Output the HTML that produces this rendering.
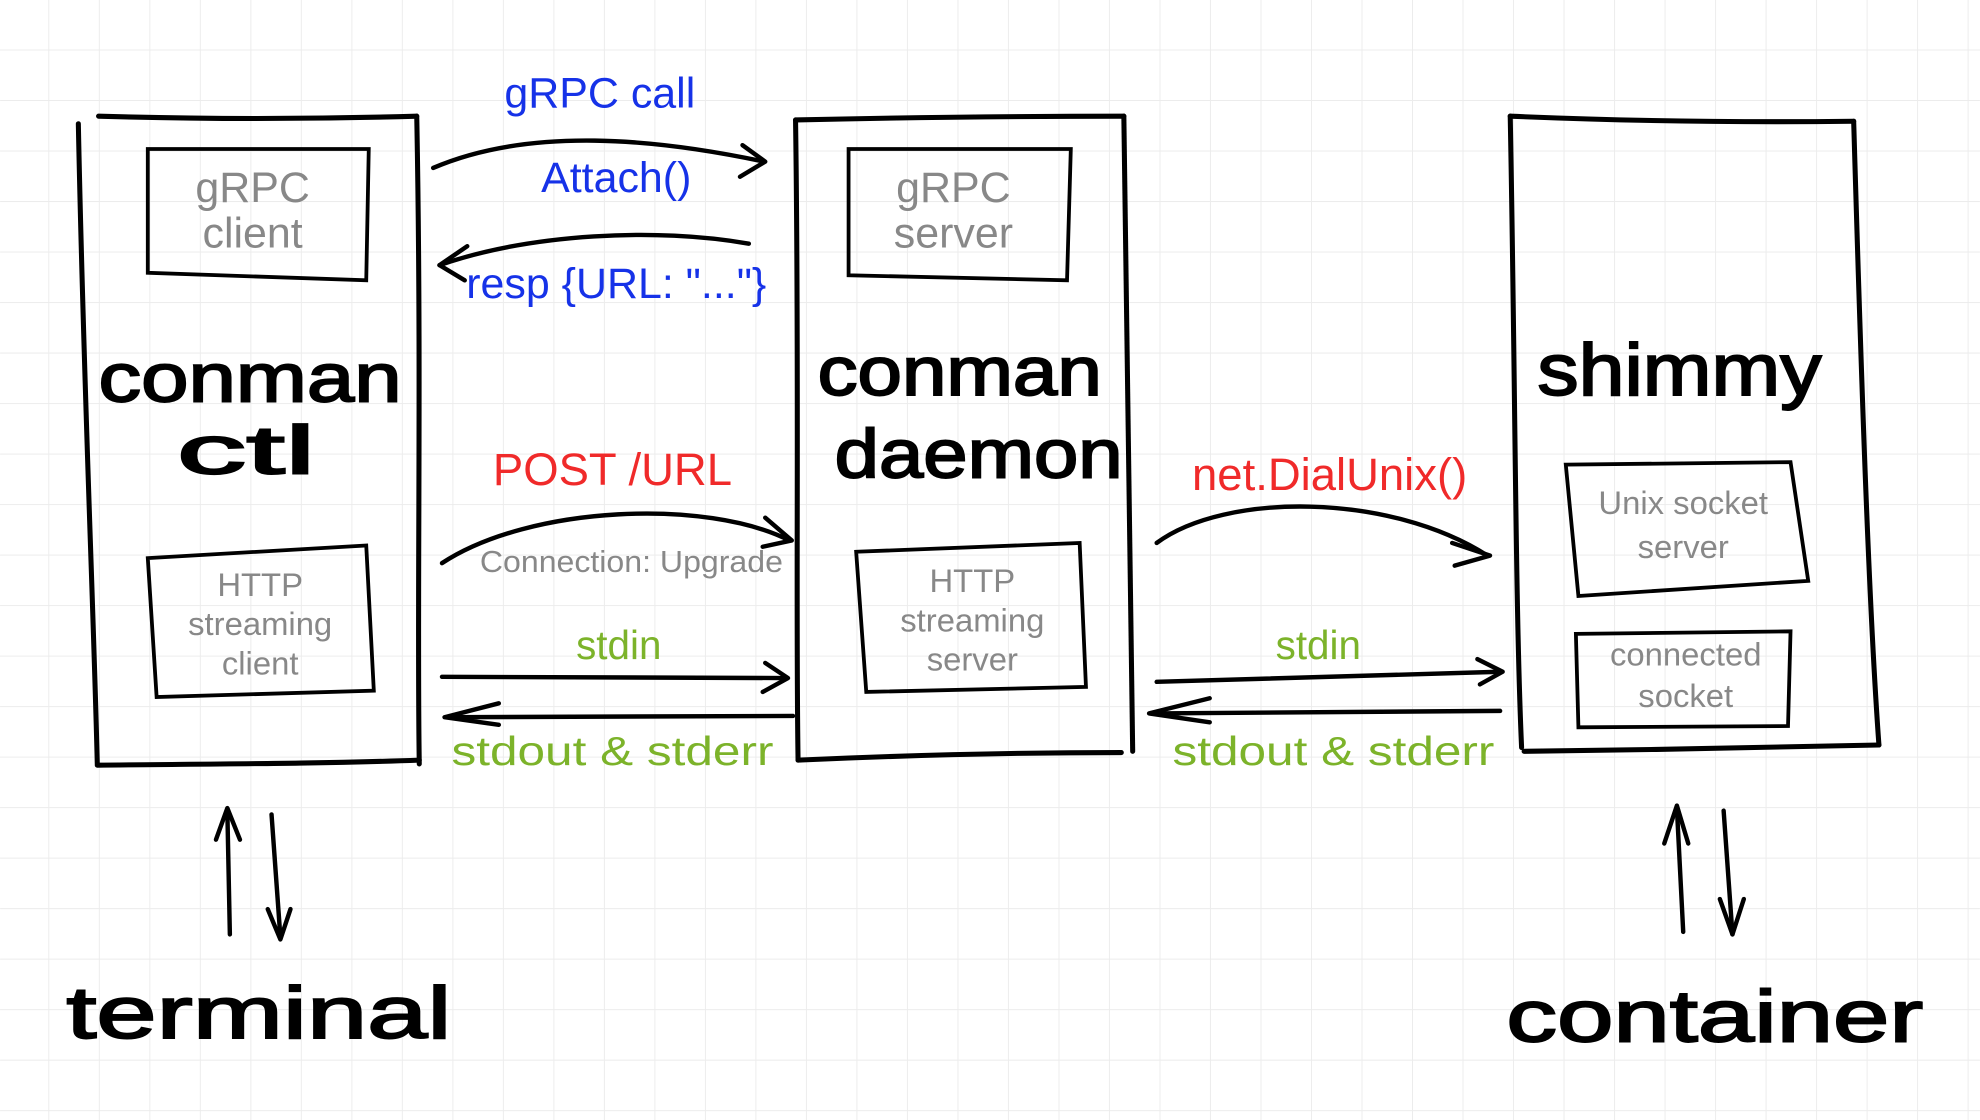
<!DOCTYPE html>
<html><head><meta charset="utf-8"><style>
html,body{margin:0;padding:0;background:#fff}
svg{display:block}
text{font-family:"Liberation Sans",sans-serif}
</style></head><body>
<svg width="1980" height="1120" viewBox="0 0 1568 887" xmlns="http://www.w3.org/2000/svg">
<defs>
<pattern id="g" width="40" height="40" patternUnits="userSpaceOnUse" x="-1" y="0">
<path d="M40 0V40M0 40H40" stroke="#ececec" stroke-width="1.5" fill="none"/>
</pattern>
</defs>
<rect width="1568" height="887" fill="#fff"/>
<rect width="1568" height="887" fill="url(#g)"/>
<g fill="none" stroke="#000" stroke-width="4" stroke-linecap="round" stroke-linejoin="round">
<path d="M62 98 C66 300 74 480 77 605"/>
<path d="M78 92 C180 95 260 94 330 92"/>
<path d="M330 92 C334 300 330 480 332 605"/>
<path d="M77 606 C160 605 250 605 332 602"/>
<path d="M630 95 C633 300 630 480 632 602"/>
<path d="M630 95 C720 93 810 92 890 92"/>
<path d="M890 92 C893 300 895 480 897 595"/>
<path d="M632 602 C720 598 810 596 888 596"/>
<path d="M1196 92 C1200 300 1200 480 1205 592"/>
<path d="M1196 92 C1290 96 1380 97 1468 96"/>
<path d="M1468 96 C1474 300 1480 480 1488 590"/>
<path d="M1207 595 C1300 594 1400 592 1488 590"/>
</g>
<g fill="none" stroke="#000" stroke-width="3" stroke-linecap="round">
<path d="M117 118 L292 118 L290 222 L117 216 Z"/>
<path d="M117 442 L290 432 L296 547 L124 552 Z"/>
<path d="M672 118 L848 118 L845 222 L672 218 Z"/>
<path d="M678 437 L855 430 L860 544 L686 548 Z"/>
<path d="M1240 368 L1418 366 L1432 460 L1250 472 Z"/>
<path d="M1248 502 L1418 500 L1416 575 L1250 576 Z"/>
</g>
<g fill="none" stroke="#000" stroke-width="3.5" stroke-linecap="round" stroke-linejoin="round">
<path d="M343 133 C420 100 520 110 605 128"/>
<path d="M588 115 L606 128 L586 140"/>
<path d="M593 193 C520 180 420 185 348 210"/>
<path d="M370 195 L348 210 L368 222"/>
<path d="M350 446 C420 400 560 395 625 428"/>
<path d="M606 410 L627 428 L604 433"/>
<path d="M350 536 L622 537"/>
<path d="M606 525 L624 537 L604 548"/>
<path d="M628 567 L355 568"/>
<path d="M395 557 L352 568 L395 574"/>
<path d="M916 430 C970 390 1100 390 1178 440"/>
<path d="M1150 430 L1180 440 L1152 448"/>
<path d="M916 540 L1188 532"/>
<path d="M1170 522 L1190 532 L1172 542"/>
<path d="M1188 563 L912 565"/>
<path d="M958 553 L910 565 L958 572"/>
<path d="M182 740 L180 642"/>
<path d="M171 665 L180 640 L190 665"/>
<path d="M215 645 L222 742"/>
<path d="M212 720 L222 744 L230 720"/>
<path d="M1333 738 L1328 640"/>
<path d="M1318 668 L1328 638 L1337 668"/>
<path d="M1365 642 L1372 740"/>
<path d="M1362 712 L1372 740 L1381 712"/>
</g>
<g fill="#888" font-size="34" text-anchor="middle">
<text x="200" y="160">gRPC</text><text x="200" y="196">client</text>
<text x="755" y="160">gRPC</text><text x="755" y="196">server</text>
</g>
<g fill="#888" font-size="26" text-anchor="middle">
<text x="206" y="472">HTTP</text><text x="206" y="503">streaming</text><text x="206" y="534">client</text>
<text x="770" y="469">HTTP</text><text x="770" y="500">streaming</text><text x="770" y="531">server</text>
<text x="1333" y="407">Unix socket</text><text x="1333" y="442">server</text>
<text x="1335" y="527">connected</text><text x="1335" y="560">socket</text>
<text x="500" y="453" font-size="24" textLength="240" lengthAdjust="spacingAndGlyphs">Connection: Upgrade</text>
</g>
<g fill="#000" font-size="54" text-anchor="middle" stroke="#000" stroke-width="1.5">
<text x="198" y="318" textLength="240" lengthAdjust="spacingAndGlyphs">conman</text><text x="195" y="375" textLength="110" lengthAdjust="spacingAndGlyphs">ctl</text>
<text x="760" y="313" textLength="225" lengthAdjust="spacingAndGlyphs">conman</text><text x="775" y="378" textLength="228" lengthAdjust="spacingAndGlyphs">daemon</text>
<text x="1330" y="313" font-size="58" textLength="225" lengthAdjust="spacingAndGlyphs">shimmy</text>
<text x="205" y="822" font-size="58" textLength="305" lengthAdjust="spacingAndGlyphs">terminal</text>
<text x="1358" y="825" font-size="58" textLength="330" lengthAdjust="spacingAndGlyphs">container</text>
</g>
<g fill="#1632e8" font-size="34" text-anchor="middle">
<text x="475" y="85">gRPC call</text>
<text x="488" y="152">Attach()</text>
<text x="488" y="236">resp {URL: "..."}</text>
</g>
<g fill="#f02a2a" font-size="36" text-anchor="middle">
<text x="485" y="384">POST /URL</text>
<text x="1053" y="388">net.DialUnix()</text>
</g>
<g fill="#7cb32a" font-size="32" text-anchor="middle">
<text x="490" y="522">stdin</text>
<text x="485" y="606" textLength="255" lengthAdjust="spacingAndGlyphs">stdout &amp; stderr</text>
<text x="1044" y="522">stdin</text>
<text x="1056" y="606" textLength="255" lengthAdjust="spacingAndGlyphs">stdout &amp; stderr</text>
</g>
</svg>
</body></html>
